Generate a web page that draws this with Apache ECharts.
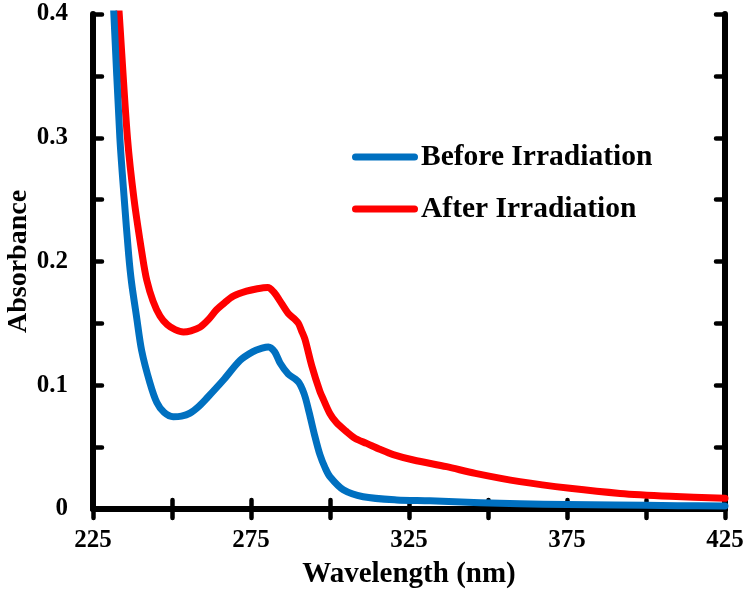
<!DOCTYPE html>
<html>
<head>
<meta charset="utf-8">
<script src="https://cdn.jsdelivr.net/npm/echarts@6/dist/echarts.min.js"></script>
<style>
  html, body { margin: 0; padding: 0; background: #fff; }
  #chart { width: 750px; height: 595px; }
</style>
</head>
<body>
<div id="chart"></div>
<script>
// Wavelength (nm) / Absorbance
const beforeWavelength = [231.0, 231.6, 233.5, 234.9, 236.3, 237.2, 238.8, 240.4, 243.0, 245.2, 247.5, 250.4, 253.0, 255.7, 258.5, 261.0, 266.2, 271.5, 275.5, 278.5, 280.5, 282.5, 284.2, 286.8, 289.0, 290.2, 291.2, 292.2, 293.5, 295.0, 296.8, 298.5, 300.0, 304.2, 310.5, 321.1, 331.6, 347.5, 360, 375, 390, 410, 425];
const beforeAbsorbance = [0.43, 0.40, 0.30, 0.25, 0.205, 0.183, 0.155, 0.128, 0.102, 0.086, 0.078, 0.0745, 0.075, 0.0775, 0.083, 0.0895, 0.104, 0.120, 0.127, 0.130, 0.131, 0.127, 0.118, 0.109, 0.105, 0.102, 0.097, 0.090, 0.077, 0.061, 0.044, 0.033, 0.026, 0.0155, 0.0099, 0.0073, 0.0066, 0.005, 0.0042, 0.0036, 0.0032, 0.0027, 0.0024];

const afterWavelength = [232.5, 233.3, 235.9, 238.0, 240.6, 242.0, 244.0, 246.2, 248.5, 251.0, 253.6, 256.0, 258.9, 261.5, 264.1, 266.8, 269.4, 273.6, 277.0, 280.3, 282.3, 284.2, 286.8, 289.0, 290.0, 291.0, 292.1, 294.2, 296.8, 298.0, 300.0, 302.0, 305.0, 308.0, 311.6, 316.0, 320.0, 326.4, 336.9, 346.0, 360.1, 375.9, 391.8, 407.6, 425];
const afterAbsorbance = [0.43, 0.40, 0.30, 0.25, 0.205, 0.185, 0.168, 0.156, 0.149, 0.145, 0.143, 0.144, 0.147, 0.153, 0.161, 0.167, 0.172, 0.176, 0.178, 0.179, 0.175, 0.168, 0.158, 0.153, 0.150, 0.144, 0.137, 0.116, 0.095, 0.088, 0.077, 0.070, 0.063, 0.057, 0.053, 0.048, 0.044, 0.0396, 0.0342, 0.0288, 0.0221, 0.0167, 0.0126, 0.0103, 0.0086];

const seriesNames = ['Before Irradiation', 'After Irradiation'];
const seriesColors = ['#0070C0', '#FF0000'];
const xLabelValues = [225, 275, 325, 375, 425];
const yLabelValues = [0, 0.1, 0.2, 0.3, 0.4];

const FONT = "'Liberation Serif', 'Times New Roman', serif";

function pairs(xs, ys) { return xs.map((x, i) => [x, ys[i]]); }

const axisLineStyle = { show: true, lineStyle: { color: '#000', width: 6 } };
const axisTickStyle = { show: true, inside: true, length: 9, lineStyle: { color: '#000', width: 4.5, cap: 'round' } };

const chart = echarts.init(document.getElementById('chart'), null, { renderer: 'canvas' });
chart.setOption({
  animation: false,
  backgroundColor: '#fff',
  grid: { left: 93, top: 14, right: 25, bottom: 86, containLabel: false, outerBoundsMode: 'none' },
  legend: {
    orient: 'vertical',
    left: 347,
    top: 137,
    itemWidth: 66,
    itemHeight: 7,
    itemGap: 22,
    icon: 'path://M3.5,0 L62.5,0 A3.5,3.5 0 0 1 62.5,7 L3.5,7 A3.5,3.5 0 0 1 3.5,0 Z',
    textStyle: { fontFamily: FONT, fontWeight: 'bold', fontSize: 29.5, color: '#000', padding: [0, 0, 0, -2] },
    data: seriesNames
  },
  xAxis: [
    {
      type: 'value', min: 225, max: 425, interval: 25, position: 'bottom',
      name: 'Wavelength (nm)', nameLocation: 'middle', nameGap: 51, nameMoveOverlap: false,
      nameTextStyle: { fontFamily: FONT, fontWeight: 'bold', fontSize: 29, color: '#000' },
      axisLine: axisLineStyle, axisTick: axisTickStyle, splitLine: { show: false },
      axisLabel: {
        margin: 19, fontFamily: FONT, fontWeight: 'bold', fontSize: 25, color: '#000',
        formatter: v => xLabelValues.indexOf(Math.round(v)) >= 0 ? String(Math.round(v)) : ''
      }
    },
    {
      type: 'value', min: 225, max: 425, interval: 25, position: 'top',
      axisLine: axisLineStyle, axisTick: axisTickStyle, splitLine: { show: false },
      axisLabel: { show: false }
    }
  ],
  yAxis: [
    {
      type: 'value', min: 0, max: 0.4, interval: 0.05, position: 'left',
      name: 'Absorbance', nameLocation: 'middle', nameGap: 60, nameMoveOverlap: false,
      nameTextStyle: { fontFamily: FONT, fontWeight: 'bold', fontSize: 28, color: '#000' },
      axisLine: axisLineStyle, axisTick: axisTickStyle, splitLine: { show: false },
      axisLabel: {
        margin: 25, fontFamily: FONT, fontWeight: 'bold', fontSize: 25, color: '#000',
        formatter: v => {
          const r = Math.round(v * 100) / 100;
          return yLabelValues.some(t => Math.abs(t - r) < 1e-6) ? (r === 0 ? '0' : r.toFixed(1)) : '';
        }
      }
    },
    {
      type: 'value', min: 0, max: 0.4, interval: 0.05, position: 'right',
      axisLine: axisLineStyle, axisTick: axisTickStyle, splitLine: { show: false },
      axisLabel: { show: false }
    }
  ],
  series: [
    {
      name: seriesNames[0], type: 'line', data: pairs(beforeWavelength, beforeAbsorbance),
      showSymbol: false, symbol: 'none', smooth: 0.3, clip: true,
      lineStyle: { color: seriesColors[0], width: 7, cap: 'round', join: 'round' },
      itemStyle: { color: seriesColors[0] }, z: 3
    },
    {
      name: seriesNames[1], type: 'line', data: pairs(afterWavelength, afterAbsorbance),
      showSymbol: false, symbol: 'none', smooth: 0.3, clip: true,
      lineStyle: { color: seriesColors[1], width: 7, cap: 'round', join: 'round' },
      itemStyle: { color: seriesColors[1] }, z: 2
    }
  ]
});
</script>
</body>
</html>
